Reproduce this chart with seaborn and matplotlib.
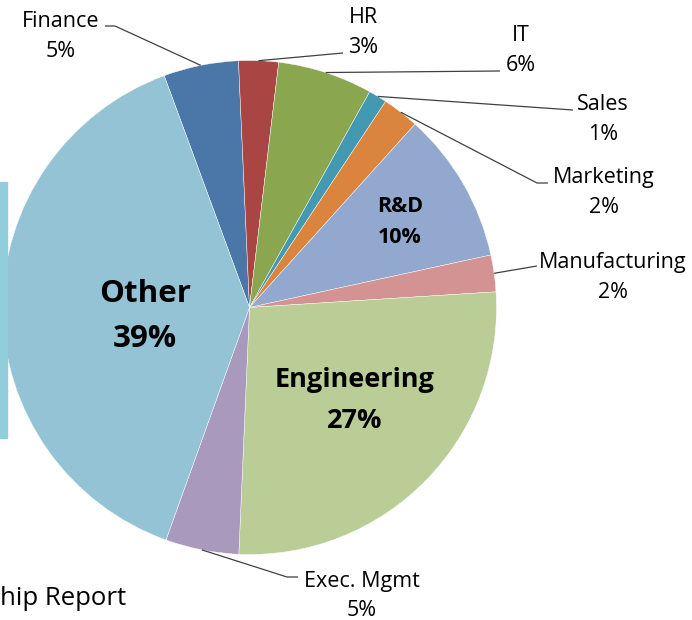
import numpy as np
import matplotlib
matplotlib.use("Agg")
import matplotlib.pyplot as plt
import seaborn as sns
from matplotlib.patches import Rectangle

# slice data, clockwise from the top-left
departments = ["Finance", "HR", "IT", "Sales", "Marketing", "R&D",
               "Manufacturing", "Engineering", "Exec. Mgmt", "Other"]
shares = [4.9, 2.6, 6.2, 1.2, 2.4, 9.9, 2.4, 26.7, 4.8, 38.9]
slice_colors = ["#4A76A8", "#A94643", "#8AA64F", "#4299B1", "#DB843D",
                "#93A8CF", "#D29392", "#BACD96", "#A99ABD", "#93C3D5"]
inside_labels = ["R&D", "Engineering", "Other"]
title_text = "hip Report"

W, H = 692, 620
CX, CY, R = 249.5, 307.5, 247.0


def px(x, y):
    # pixel position (from top-left) -> data coords of the pie axes
    return (x - CX) / R, (CY - y) / R


sns.set_theme(style="white")
plt.rcParams["font.family"] = ["Open Sans", "DejaVu Sans"]

fig = plt.figure(figsize=(W / 100, H / 100), dpi=100)
ax = fig.add_axes([0, 0, 1, 1])

palette = sns.color_palette(slice_colors)
wedges, _ = ax.pie(shares, colors=palette, startangle=110.2, counterclock=False,
                   radius=1, center=(0, 0),
                   wedgeprops=dict(edgecolor="white", linewidth=0.3))
ax.set_xlim(px(0, 0)[0], px(W, 0)[0])
ax.set_ylim(px(0, H)[1], px(0, 0)[1])
ax.set_aspect("auto")
ax.axis("off")

total = sum(shares)
pct = {d: f"{round(v / total * 100):d}%" for d, v in zip(departments, shares)}

# label layout (pixels): name centre x, name baseline, pct baseline, leader path
outer = {
    "Finance":       (61, 27, 57, [(115, 26), (105, 26)]),
    "HR":            (363, 23, 53, [(343, 53)]),
    "IT":            (521, 41, 71, [(500, 71)]),
    "Sales":         (603, 110, 140, [(573, 110)]),
    "Marketing":     (604, 183, 213, [(537, 183), (548, 183)]),
    "Manufacturing": (613, 268, 298, [(537, 266)]),
    "Exec. Mgmt":    (362, 587, 616, [(287, 577), (298, 577)]),
}
inner = {
    "R&D":         (400, 212, 243, 15.5),
    "Engineering": (355, 387, 428, 19.5),
    "Other":       (145, 302, 347, 22.5),
}

for w, name in zip(wedges, departments):
    if name in outer:
        x, yb1, yb2, path = outer[name]
        mid = np.deg2rad((w.theta1 + w.theta2) / 2)
        xs = [np.cos(mid)] + [px(*p)[0] for p in path]
        ys = [np.sin(mid)] + [px(*p)[1] for p in path]
        ax.plot(xs, ys, color="#404040", lw=0.9, solid_capstyle="butt")
        ax.text(*px(x, yb1), name, ha="center", va="baseline", fontsize=15.5, color="black")
        ax.text(*px(x, yb2), pct[name], ha="center", va="baseline", fontsize=15.5, color="black")
    else:
        x, yb1, yb2, fs = inner[name]
        ax.text(*px(x, yb1), name, ha="center", va="baseline", fontsize=fs,
                fontweight="bold", color="black")
        ax.text(*px(x, yb2), pct[name], ha="center", va="baseline", fontsize=fs,
                fontweight="bold", color="black")

# cropped title and side bar from the original slide
ax.text(*px(0, 605), title_text, ha="left", va="baseline", fontsize=18.5, color="black")
fig.patches.append(Rectangle((0, (H - 438) / H), 7 / W, 256 / H,
                             transform=fig.transFigure, color="#92CDDC", zorder=0))

plt.savefig("out.png", dpi=100)
